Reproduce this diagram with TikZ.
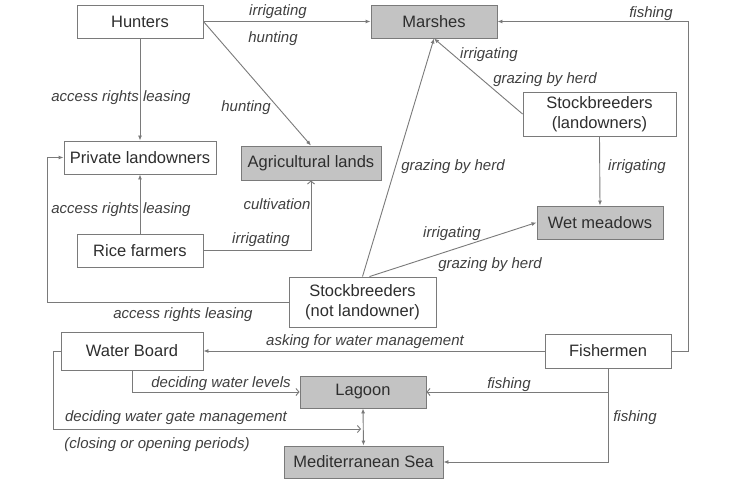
\documentclass[tikz,border=0pt]{standalone}
\usepackage{fontspec}
\setmainfont{Liberation Sans}
\usetikzlibrary{arrows.meta}
\definecolor{lin}{HTML}{7A7A7A}
\definecolor{boxfill}{HTML}{C3C3C3}
\definecolor{txt}{HTML}{2E2E2E}
\definecolor{lbl}{HTML}{404040}
\tikzset{
  box/.style={draw=lin, line width=0.9pt, fill=white, text=txt, align=center,
    inner sep=0pt, font=\fontsize{16.5}{20}\selectfont},
  gbox/.style={box, fill=boxfill},
  lab/.style={text=lbl, inner sep=0pt, yshift=-1.5pt, font=\fontsize{15}{18}\selectfont\itshape},
  conn/.style={draw=lin, line width=0.9pt, -{Latex[length=5pt,width=4pt]}},
  oconn/.style={draw=lin, line width=0.9pt, -{Straight Barb[length=3pt,width=7pt]}},
}
\begin{document}
\begin{tikzpicture}[x=1pt,y=-1pt]
\useasboundingbox[fill=white] (0,0) rectangle (755,492);
% nodes
\node[box, minimum width=126, minimum height=33] (hunt) at (140,21.5) {Hunters};
\node[gbox, minimum width=126, minimum height=33] (marsh) at (434,21.5) {Marshes};
\node[box, minimum width=152, minimum height=33] (priv) at (140,157.5) {Private landowners};
\node[gbox, minimum width=140, minimum height=34] (agri) at (311,163) {Agricultural lands};
\node[box, minimum width=153, minimum height=44] (sbl) at (599.5,114) {Stockbreeders\\(landowners)};
\node[gbox, minimum width=126, minimum height=33] (wet) at (600,222.5) {Wet meadows};
\node[box, minimum width=147, minimum height=50] (sbn) at (362.5,302) {Stockbreeders\\(not landowner)};
\node[box, minimum width=126, minimum height=33] (rice) at (140,250.5) {Rice farmers};
\node[box, minimum width=142, minimum height=38] (water) at (132,351) {Water Board};
\node[box, minimum width=126, minimum height=34] (fish) at (608,351) {Fishermen};
\node[gbox, minimum width=126, minimum height=32] (lagoon) at (363,392) {Lagoon};
\node[gbox, minimum width=159, minimum height=32] (sea) at (363.5,462) {Mediterranean Sea};
% helper coordinates
\coordinate (fr) at (688,351);
\coordinate (pl) at (47,302);
\coordinate (wl) at (53,351);
\coordinate (gate) at (361,429);
% connectors
\draw[conn] (hunt.east) -- (marsh.west);
\draw[conn] (hunt.south) -- (priv.north);
\draw[conn] (hunt.east) -- (agri.north);
\draw[conn] (sbl.west) -- (marsh.south);
\draw[conn] (fish.east) -- (fr) |- (marsh.east);
\draw[conn] (sbl.south) -- (wet.north);
\draw[conn] (sbn.north) -- (marsh.south);
\draw[conn] ([xshift=7pt]sbn.north) -- (wet.west);
\draw[conn] (sbn.west) -- (pl) |- (priv.west);
\draw[conn] (rice.north) -- (priv.south);
\draw[oconn] (rice.east) -| (agri.south);
\draw[conn] (fish.west) -- (water.east);
\draw[oconn] (water.south) |- (lagoon.west);
\draw[oconn] (water.west) -- (wl) |- (gate);
\draw[draw=lin, line width=0.9pt, {Latex[length=5pt,width=4pt]}-{Latex[length=5pt,width=4pt]}] (lagoon.south) -- (sea.north);
\draw[oconn] (fish.south) |- (lagoon.east);
\draw[conn] (fish.south) |- (sea.east);
% labels
\node[lab] (l1) at (278,10) {irrigating};
\node[lab] (l2) at (273,37) {hunting};
\node[lab] (l3) at (121,96) {access rights leasing};
\node[lab] (l4) at (246,106) {hunting};
\node[lab] (l5) at (651,12) {fishing};
\node[lab] (l6) at (489,53) {irrigating};
\node[lab] (l7) at (545,78) {grazing by herd};
\node[lab] (l8) at (453,165) {grazing by herd};
\node[lab] (l9) at (637,165) {irrigating};
\node[lab] (l10) at (452,232) {irrigating};
\node[lab] (l11) at (490,263) {grazing by herd};
\node[lab] (l12) at (121,208) {access rights leasing};
\node[lab] (l13) at (277,203) {cultivation};
\node[lab] (l14) at (261,238) {irrigating};
\node[lab] (l15) at (183,313) {access rights leasing};
\node[lab] (l16) at (365,340) {asking for water management};
\node[lab] (l17) at (221,382) {deciding water levels};
\node[lab] (l18) at (176,416) {deciding water gate management};
\node[lab] (l19) at (157,443) {(closing or opening periods)};
\node[lab] (l20) at (509,383) {fishing};
\node[lab] (l21) at (635,416) {fishing};
\end{tikzpicture}
\end{document}
